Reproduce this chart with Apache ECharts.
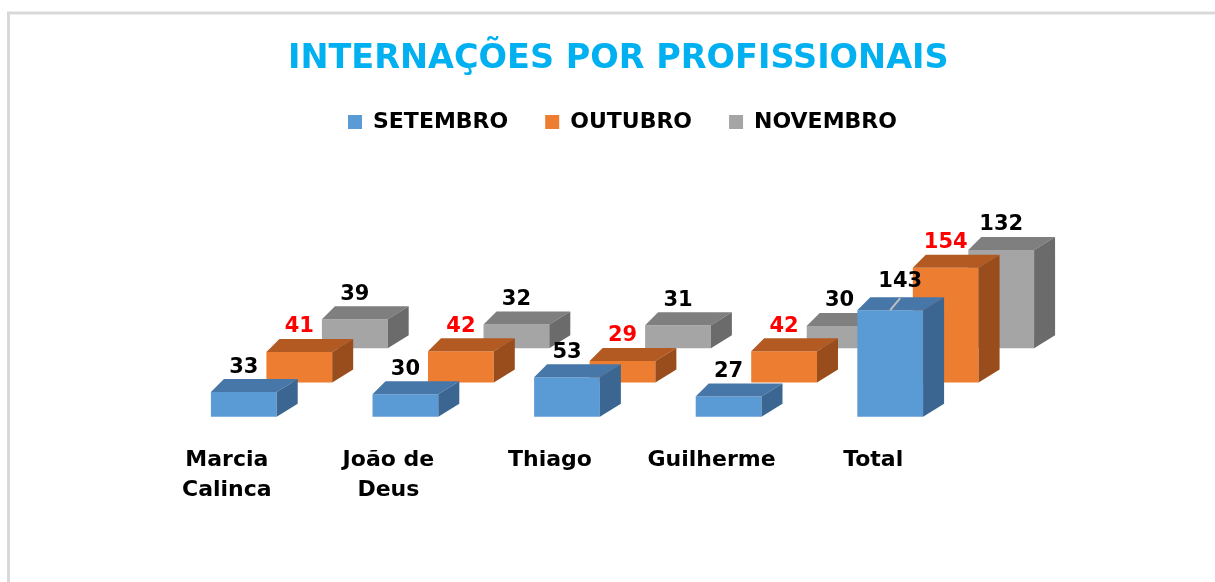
<!DOCTYPE html>
<html>
<head>
<meta charset="utf-8">
<title>Internações por profissionais</title>
<script src="https://cdn.jsdelivr.net/npm/echarts@6/dist/echarts.min.js"></script>
<style>
  html, body { margin: 0; padding: 0; background: #fff; }
  #chart { width: 1215px; height: 582px; }
</style>
</head>
<body>
<div id="chart"></div>
<script>
var categories = ['Marcia\nCalinca', 'João de\nDeus', 'Thiago', 'Guilherme', 'Total'];
var setembro = [33, 30, 53, 27, 143];
var outubro = [41, 42, 29, 42, 154];
var novembro = [39, 32, 31, 30, 132];
var monthNames = ['SETEMBRO', 'OUTUBRO', 'NOVEMBRO'];

var FONT = 'DejaVu Sans';
// each month row sits further back: shift per row, then the box depth itself
var STEP_X = 55.5, STEP_Y = -34.2;
var TOP_DY = -13, BACK_L = 13, BACK_R = 21;
var BAR_RATIO = 0.407;

var palette = [
  { front: '#5B9BD5', top: '#4677A8', side: '#3A6691', label: '#000000' },
  { front: '#ED7D31', top: '#B35A22', side: '#9A4D1C', label: '#FF0000' },
  { front: '#A5A5A5', top: '#7F7F7F', side: '#6B6B6B', label: '#000000' }
];
var monthData = [setembro, outubro, novembro];

function boxGeom(api, k) {
  var idx = api.value(0), v = api.value(1);
  var base = api.coord([idx, 0]);
  var topPt = api.coord([idx, v]);
  var w = api.size([1, 0])[0] * BAR_RATIO;
  var x0 = base[0] - w / 2 + k * STEP_X;
  return { x0: x0, x1: x0 + w, yb: base[1] + k * STEP_Y, yt: topPt[1] + k * STEP_Y };
}

function boxRenderer(k) {
  return function (params, api) {
    var g = boxGeom(api, k), c = palette[k];
    return {
      type: 'group',
      children: [
        { type: 'polygon', shape: { points: [[g.x0, g.yt], [g.x1, g.yt], [g.x1, g.yb], [g.x0, g.yb]] }, style: { fill: c.front } },
        { type: 'polygon', shape: { points: [[g.x0, g.yt], [g.x1, g.yt], [g.x1 + BACK_R, g.yt + TOP_DY], [g.x0 + BACK_L, g.yt + TOP_DY]] }, style: { fill: c.top } },
        { type: 'polygon', shape: { points: [[g.x1, g.yt], [g.x1 + BACK_R, g.yt + TOP_DY], [g.x1 + BACK_R, g.yb + TOP_DY], [g.x1, g.yb]] }, style: { fill: c.side } }
      ]
    };
  };
}

function labelRenderer(k) {
  return function (params, api) {
    var g = boxGeom(api, k);
    var x = (g.x0 + g.x1) / 2, y = g.yt + TOP_DY - 12;
    var children = [];
    // the front "Total" label was dragged aside in the original, with a leader line
    if (k === 0 && params.dataIndex === categories.length - 1) {
      x += 10; y -= 4;
      children.push({
        type: 'line',
        shape: { x1: x, y1: y + 17, x2: x - 10, y2: g.yt },
        style: { stroke: '#BFBFBF', lineWidth: 2 }
      });
    }
    children.push({
      type: 'text', x: x, y: y,
      style: {
        text: String(api.value(1)), fill: palette[k].label,
        font: 'bold 21px "' + FONT + '"', align: 'center', verticalAlign: 'middle'
      }
    });
    return { type: 'group', children: children };
  };
}

function toPairs(arr) {
  return arr.map(function (v, i) { return [i, v]; });
}

var series = [];
// back rows first so the front row covers them
[2, 1, 0].forEach(function (k) {
  series.push({
    name: monthNames[k],
    type: 'custom',
    renderItem: boxRenderer(k),
    encode: { x: 0, y: 1 },
    data: toPairs(monthData[k]),
    itemStyle: { color: palette[k].front },
    clip: false,
    z: 2 + (2 - k)
  });
});
[0, 1, 2].forEach(function (k) {
  series.push({
    name: 'rotulo-' + monthNames[k],
    type: 'custom',
    renderItem: labelRenderer(k),
    encode: { x: 0, y: 1 },
    data: toPairs(monthData[k]),
    clip: false,
    silent: true,
    z: 10
  });
});

var chart = echarts.init(document.getElementById('chart'));
chart.setOption({
  animation: false,
  backgroundColor: '#ffffff',
  title: {
    text: 'INTERNAÇÕES POR PROFISSIONAIS',
    left: 288,
    top: 42,
    padding: 0,
    textStyle: { color: '#00B0F0', fontSize: 33.5, fontWeight: 'bold', fontFamily: FONT }
  },
  legend: {
    data: monthNames,
    left: 348,
    top: 111,
    padding: 0,
    icon: 'rect',
    itemWidth: 14,
    itemHeight: 14,
    itemGap: 37,
    textStyle: { color: '#000', fontSize: 22, fontWeight: 'bold', fontFamily: FONT, padding: [0, 0, 0, 6] }
  },
  grid: { left: 163, right: 244, top: 267.7, bottom: 165.3 },
  xAxis: {
    type: 'category',
    data: categories,
    axisLine: { show: false },
    axisTick: { show: false },
    splitLine: { show: false },
    axisLabel: {
      interval: 0,
      margin: 29,
      color: '#000',
      fontSize: 22,
      fontWeight: 'bold',
      fontFamily: FONT,
      lineHeight: 30,
      padding: [0, 34, 0, 0]
    }
  },
  yAxis: { type: 'value', show: false, min: 0, max: 200, splitLine: { show: false } },
  graphic: [
    { type: 'line', shape: { x1: 8.5, y1: 12, x2: 8.5, y2: 582 }, style: { stroke: '#D9D9D9', lineWidth: 3 } },
    { type: 'line', shape: { x1: 7, y1: 13, x2: 1215, y2: 13 }, style: { stroke: '#D9D9D9', lineWidth: 3 } }
  ],
  series: series
});
</script>
</body>
</html>
